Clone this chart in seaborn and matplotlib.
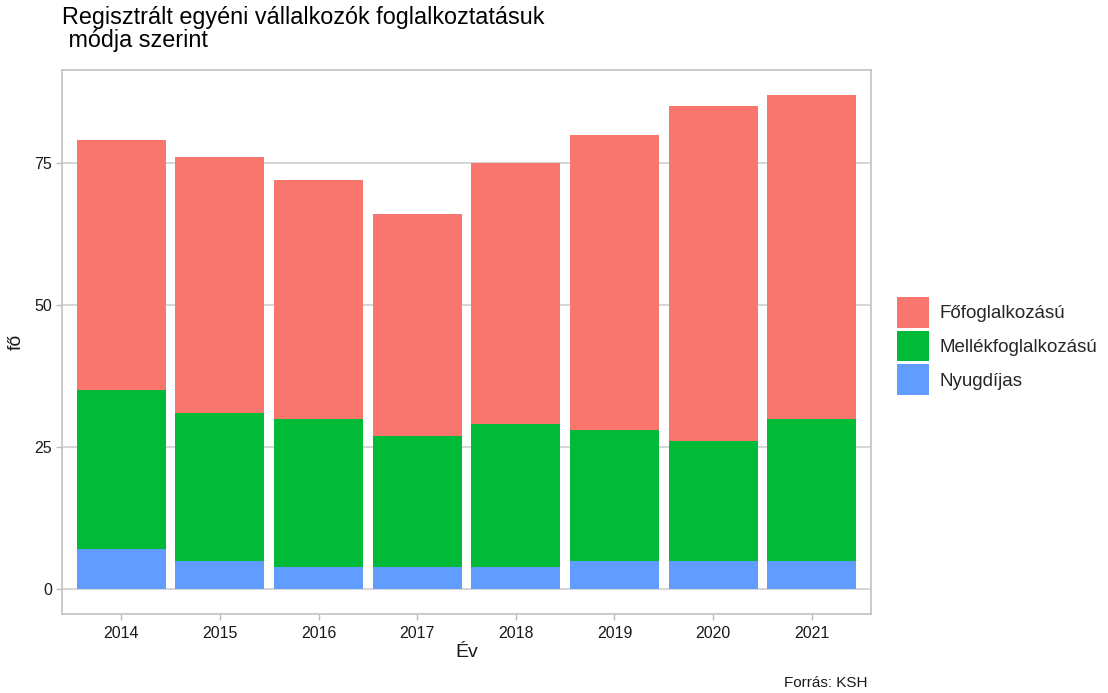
import matplotlib
matplotlib.use("Agg")
import matplotlib.pyplot as plt
from matplotlib.patches import Patch
import seaborn as sns
import pandas as pd
import numpy as np

# Registered sole proprietors by type of employment
years = ["2014", "2015", "2016", "2017", "2018", "2019", "2020", "2021"]
fofoglalkozasu = [44, 45, 42, 39, 46, 52, 59, 57]
mellekfoglalkozasu = [28, 26, 26, 23, 25, 23, 21, 25]
nyugdijas = [7, 5, 4, 4, 4, 5, 5, 5]

categories = ["Főfoglalkozású", "Mellékfoglalkozású", "Nyugdíjas"]
colors = ["#F8766D", "#00BA38", "#619CFF"]

sns.set_theme(style="white")
plt.rcParams["font.family"] = ["Liberation Sans", "DejaVu Sans"]

df = pd.DataFrame({
    "Év": years,
    "Nyugdíjas": nyugdijas,
    "Mellékfoglalkozású": mellekfoglalkozasu,
    "Főfoglalkozású": fofoglalkozasu,
})
# stacked heights: bottom to top is Nyugdíjas, Mellék, Fő
df["top_ny"] = df["Nyugdíjas"]
df["top_me"] = df["top_ny"] + df["Mellékfoglalkozású"]
df["top_fo"] = df["top_me"] + df["Főfoglalkozású"]

fig = plt.figure(figsize=(11.08, 6.93), dpi=100)
ax = fig.add_axes([62 / 1108, 1 - 614 / 693, (871 - 62) / 1108, (614 - 70) / 693])

for col, c in zip(["top_fo", "top_me", "top_ny"], colors):
    sns.barplot(data=df, x="Év", y=col, color=c, width=0.9, saturation=1,
                errorbar=None, ax=ax, zorder=3, linewidth=0)

ax.set_xlim(-0.6, 7.6)
ax.set_ylim(-4.35, 91.35)
ax.set_yticks([0, 25, 50, 75])
ax.grid(axis="y", color="#cccccc", linewidth=1.1, zorder=0)
ax.grid(axis="x", visible=False)
for s in ax.spines.values():
    s.set_color("#bdbdbd")
    s.set_linewidth(1.1)
    s.set_visible(True)

ax.tick_params(axis="both", which="both", bottom=True, left=True, length=4,
               color="#bdbdbd", width=1, labelsize=11.5, labelcolor="#1a1a1a", pad=3)
ax.tick_params(axis="x", pad=5)
ax.set_xlabel("Év", fontsize=14, color="#1a1a1a", labelpad=2)
ax.set_ylabel("fő", fontsize=14, color="#1a1a1a", labelpad=7)

fig.text(62 / 1108, 1 - 6 / 693,
         "Regisztrált egyéni vállalkozók foglalkoztatásuk\n módja szerint",
         fontsize=16.8, color="#000000", ha="left", va="top", linespacing=1.0)
fig.text(868 / 1108, 1 - 690 / 693, "Forrás: KSH", fontsize=11,
         color="#1a1a1a", ha="right", va="bottom")

handles = [Patch(facecolor=c, edgecolor="none", label=l) for c, l in zip(colors, categories)]
leg = fig.legend(handles=handles, loc="center left",
                 bbox_to_anchor=(897 / 1108, 1 - 346 / 693),
                 frameon=False, fontsize=13.5, handlelength=1.7, handleheight=2.16,
                 handletextpad=0.55, labelspacing=0.16, borderaxespad=0, borderpad=0)

fig.savefig("out.png", dpi=100, facecolor="white")
